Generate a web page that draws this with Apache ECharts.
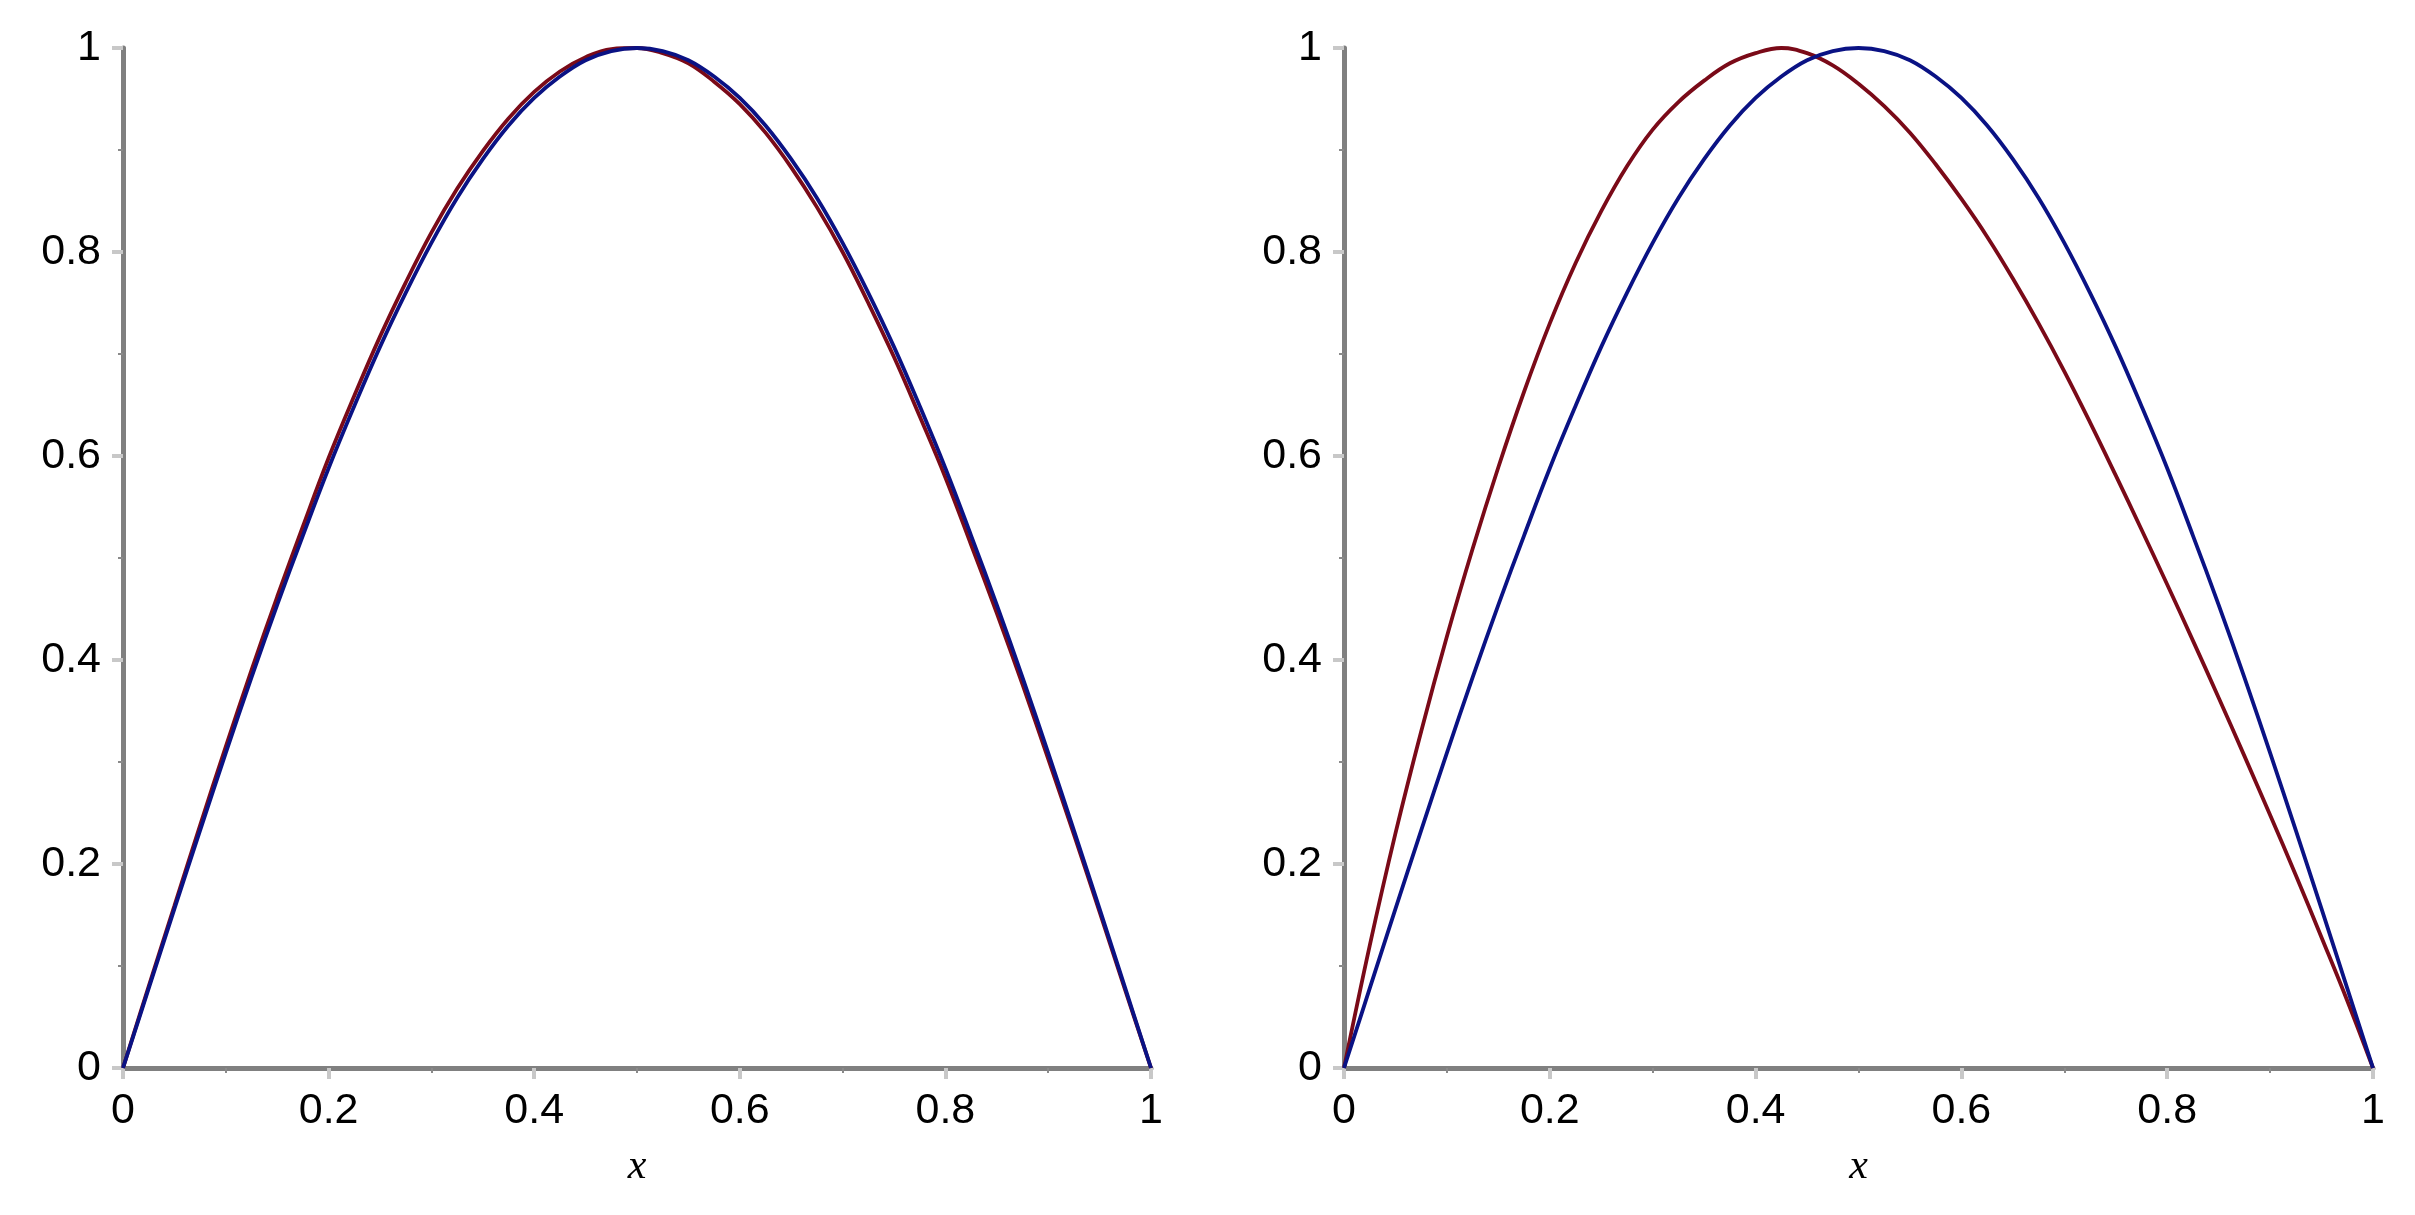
<!DOCTYPE html>
<html>
<head>
<meta charset="utf-8">
<script src="https://cdn.jsdelivr.net/npm/echarts@6/dist/echarts.min.js"></script>
<style>
  html, body { margin: 0; padding: 0; background: #fff; }
  #chart { width: 2415px; height: 1215px; }
</style>
</head>
<body>
<div id="chart"></div>
<script>
const xValues = [0, 0.025, 0.05, 0.075, 0.1, 0.125, 0.15, 0.175, 0.2, 0.225,
                 0.25, 0.275, 0.3, 0.325, 0.35, 0.375, 0.4, 0.425, 0.45, 0.475,
                 0.5, 0.525, 0.55, 0.575, 0.6, 0.625, 0.65, 0.675, 0.7, 0.725,
                 0.75, 0.775, 0.8, 0.825, 0.85, 0.875, 0.9, 0.925, 0.95, 0.975, 1]

// left panel: two nearly identical arches, red a hair to the left
const leftRed  = [0, 0.080, 0.159, 0.238, 0.315, 0.390, 0.462, 0.531, 0.598, 0.659,
                  0.717, 0.770, 0.819, 0.862, 0.899, 0.931, 0.957, 0.977, 0.991, 0.999,
                  1.000, 0.995, 0.985, 0.967, 0.945, 0.917, 0.883, 0.844, 0.800, 0.750,
                  0.697, 0.639, 0.579, 0.513, 0.446, 0.376, 0.303, 0.229, 0.153, 0.076, 0]
const leftBlue = [0, 0.078, 0.156, 0.233, 0.309, 0.383, 0.454, 0.522, 0.588, 0.649,
                  0.707, 0.760, 0.809, 0.853, 0.891, 0.924, 0.951, 0.972, 0.988, 0.997,
                  1.000, 0.997, 0.988, 0.972, 0.951, 0.924, 0.891, 0.853, 0.809, 0.760,
                  0.707, 0.649, 0.588, 0.522, 0.454, 0.383, 0.309, 0.233, 0.156, 0.078, 0]

// right panel: red peaks early (~0.42) then falls almost straight, blue is symmetric
const rightRed  = [0, 0.120, 0.230, 0.330, 0.423, 0.509, 0.589, 0.663, 0.730, 0.789,
                   0.840, 0.884, 0.920, 0.947, 0.968, 0.985, 0.995, 1.000, 0.995, 0.983,
                   0.965, 0.943, 0.917, 0.886, 0.852, 0.815, 0.774, 0.730, 0.683, 0.633,
                   0.581, 0.528, 0.474, 0.419, 0.363, 0.306, 0.248, 0.189, 0.128, 0.066, 0]
const rightBlue = [0, 0.078, 0.156, 0.233, 0.309, 0.383, 0.454, 0.522, 0.588, 0.649,
                   0.707, 0.760, 0.809, 0.853, 0.891, 0.924, 0.951, 0.972, 0.988, 0.997,
                   1.000, 0.997, 0.988, 0.972, 0.951, 0.924, 0.891, 0.853, 0.809, 0.760,
                   0.707, 0.649, 0.588, 0.522, 0.454, 0.383, 0.309, 0.233, 0.156, 0.078, 0]

const axisMin = 0
const axisMax = 1
const axisStep = 0.2
const xName = 'x'

const RED = '#7a0a18'
const BLUE = '#0a1284'
const FONT = 'Liberation Sans'

const pairs = ys => xValues.map((x, i) => [x, ys[i]])

const baseAxis = {
  type: 'value',
  min: axisMin,
  max: axisMax,
  interval: axisStep,
  splitLine: { show: false },
  axisLine: { show: true, onZero: false, lineStyle: { color: '#808080', width: 5 } },
  axisTick: { show: true, inside: false, length: 11, lineStyle: { color: '#c8c8c8', width: 4 } },
  minorTick: { show: true, splitNumber: 2, length: 5, lineStyle: { color: '#8a8a8a', width: 2 } },
  axisLabel: {
    color: '#000',
    fontFamily: FONT,
    fontSize: 43,
    margin: 22,
    formatter: v => String(Number(v.toFixed(2))),
  },
}

const makeX = gridIndex => ({
  ...baseAxis,
  gridIndex,
  name: xName,
  nameLocation: 'middle',
  nameGap: 78,
  nameTextStyle: { color: '#000', fontFamily: 'Liberation Serif', fontStyle: 'italic', fontSize: 42 },
})

const makeY = gridIndex => ({ ...baseAxis, gridIndex })

const line = (gridIndex, ys, color) => ({
  type: 'line',
  xAxisIndex: gridIndex,
  yAxisIndex: gridIndex,
  data: pairs(ys),
  smooth: 0.4,
  showSymbol: false,
  clip: false,
  lineStyle: { color, width: 3.8 },
  itemStyle: { color },
})

const chart = echarts.init(document.getElementById('chart'), null, { renderer: 'canvas' })
chart.setOption({
  backgroundColor: '#ffffff',
  animation: false,
  grid: [
    { left: 123, top: 48, width: 1028, height: 1020 },
    { left: 1344, top: 48, width: 1029, height: 1020 },
  ],
  xAxis: [makeX(0), makeX(1)],
  yAxis: [makeY(0), makeY(1)],
  series: [
    line(0, leftRed, RED),
    line(0, leftBlue, BLUE),
    line(1, rightRed, RED),
    line(1, rightBlue, BLUE),
  ],
})
</script>
</body>
</html>
